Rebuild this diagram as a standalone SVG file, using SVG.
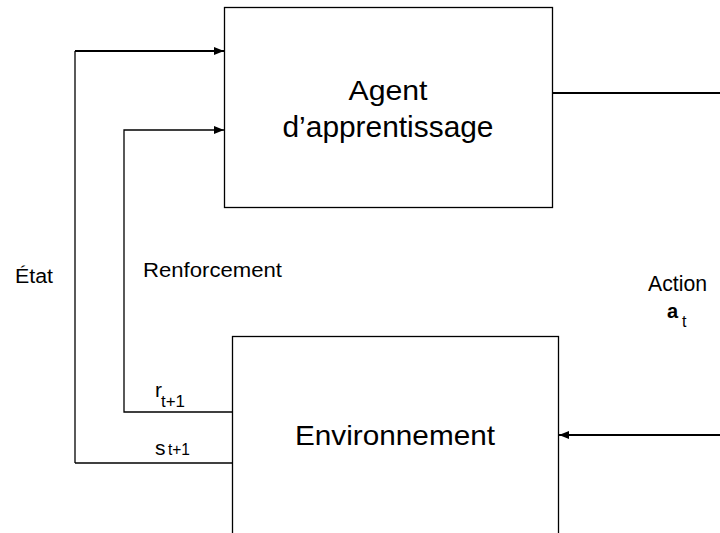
<svg xmlns="http://www.w3.org/2000/svg" width="720" height="533" viewBox="0 0 720 533">
<style>
text{font-family:"Liberation Sans",Arial,sans-serif;fill:#000}
.box{fill:#fff;stroke:#000;stroke-width:1.3}
.ln{fill:none;stroke:#000;stroke-width:1.3}
.th{fill:none;stroke:#000;stroke-width:2}
</style>
<defs>
<marker id="ah" markerWidth="10" markerHeight="8" refX="10" refY="4" orient="auto" markerUnits="userSpaceOnUse">
<path d="M0,0 L10,4 L0,8 Z" fill="#000"/>
</marker>
</defs>
<rect width="720" height="533" fill="#fff"/>
<g id="connectors">
<path class="ln" d="M75,463 L75,51"/>
<path class="th" d="M75,51 L224,51" marker-end="url(#ah)"/>
<path class="ln" d="M232,463 L75,463"/>
<path class="ln" d="M232,412 L124,412 L124,130 L224,130" marker-end="url(#ah)"/>
<path class="th" d="M552,93 L720,93"/>
<path class="th" d="M720,435 L559,435" marker-end="url(#ah)"/>
</g>
<g id="agent">
<rect class="box" x="224.5" y="7.5" width="328" height="200"/>
<text x="388" y="100" font-size="28" text-anchor="middle" textLength="79" lengthAdjust="spacingAndGlyphs">Agent</text>
<text x="388" y="137" font-size="29" text-anchor="middle" textLength="211" lengthAdjust="spacingAndGlyphs">d’apprentissage</text>
</g>
<g id="environnement">
<rect class="box" x="232.5" y="336.5" width="326" height="210"/>
<text x="395" y="445" font-size="28" text-anchor="middle" textLength="200" lengthAdjust="spacingAndGlyphs">Environnement</text>
</g>
<g id="labels">
<text x="15" y="283" font-size="20" textLength="38" lengthAdjust="spacingAndGlyphs">État</text>
<text x="143" y="277" font-size="20.5" textLength="139" lengthAdjust="spacingAndGlyphs">Renforcement</text>
<text x="648" y="291" font-size="22" textLength="59" lengthAdjust="spacingAndGlyphs">Action</text>
<text x="667" y="318" font-size="20" font-weight="bold">a</text>
<text x="682" y="327" font-size="16">t</text>
<text x="155" y="397" font-size="21">r</text>
<text x="161" y="407" font-size="16" textLength="24" lengthAdjust="spacingAndGlyphs">t+1</text>
<text x="155" y="455" font-size="21">s</text>
<text x="168" y="455" font-size="16" textLength="22" lengthAdjust="spacingAndGlyphs">t+1</text>
</g>
</svg>
